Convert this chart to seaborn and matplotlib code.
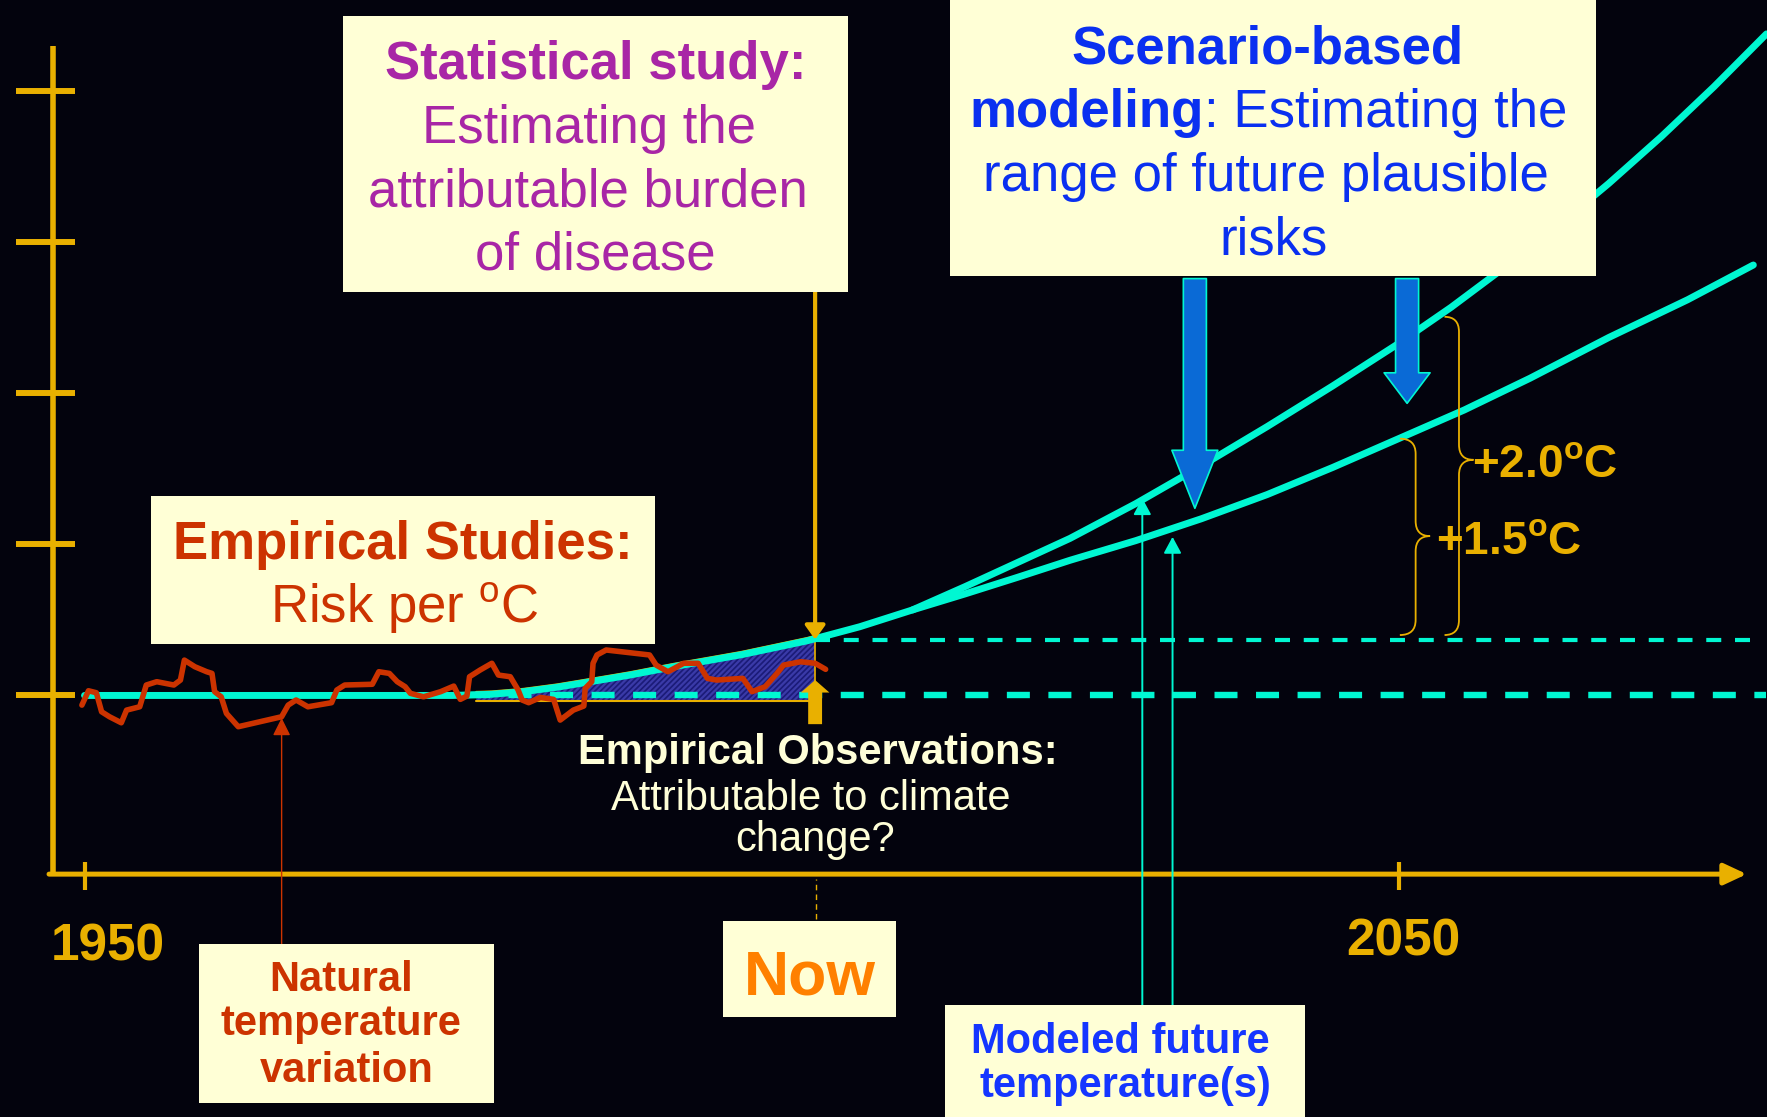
import numpy as np
import matplotlib
matplotlib.use('Agg')
import matplotlib.pyplot as plt
import matplotlib.patches as mpatches
from matplotlib.path import Path
import seaborn as sns

# natural temperature variation (year, risk above baseline, 1 unit = 1 y tick)
natural_years = [1949.8, 1950.3, 1950.9, 1951.3, 1951.9, 1952.8, 1953.2, 1954.2, 1954.7, 1955.5,
                 1956.8, 1957.3, 1957.6, 1958.4, 1959.3, 1959.7, 1959.9, 1960.4, 1960.8, 1961.7,
                 1965.0, 1965.5, 1966.1, 1967.0, 1968.8, 1969.2, 1969.8, 1971.9, 1972.4, 1973.2,
                 1973.8, 1974.4, 1974.8, 1975.8, 1977.1, 1978.1, 1978.6, 1979.1, 1979.3, 1980.1,
                 1981.0, 1981.5, 1982.4, 1983.0, 1983.3, 1983.8, 1984.7, 1985.7, 1986.2, 1987.2,
                 1988.0, 1988.1, 1988.6, 1988.7, 1989.0, 1989.7, 1993.0, 1993.5, 1994.4, 1995.6,
                 1996.7, 1997.4, 1998.1, 2000.1, 2000.8, 2001.8, 2002.7, 2003.2, 2004.5, 2005.6,
                 2006.4]
natural_risk = [-0.064, 0.031, 0.018, -0.108, -0.141, -0.181, -0.097, -0.075, 0.069, 0.091,
                0.069, 0.102, 0.234, 0.19, 0.157, 0.146, 0.025, -0.009, -0.119, -0.207,
                -0.141, -0.064, -0.03, -0.075, -0.048, 0.036, 0.069, 0.074, 0.157, 0.146,
                0.091, 0.058, 0.014, -0.009, 0.025, 0.062, -0.026, -0.004, 0.124, 0.168,
                0.213, 0.135, 0.124, 0.036, -0.03, -0.048, -0.013, -0.026, -0.163, -0.097,
                -0.07, 0.047, 0.091, 0.213, 0.268, 0.301, 0.268, 0.201, 0.157, 0.213,
                0.213, 0.113, 0.102, 0.113, 0.025, 0.058, 0.146, 0.201, 0.223, 0.213,
                0.173]

# risk curve shared by both scenarios
common_years = [1950, 1978, 1981, 1983.4, 1986, 1988.5, 1991.5, 1994.8, 2000, 2005, 2009, 2013]
common_risk = [0, 0, 0.008, 0.025, 0.055, 0.091, 0.135, 0.19, 0.27, 0.362, 0.455, 0.566]

# scenario curves
years_20 = [2013, 2017, 2021, 2025, 2030, 2035, 2040, 2045, 2050, 2054, 2058, 2062, 2066, 2070, 2074, 2078]
risk_20 = [0.566, 0.72, 0.88, 1.04, 1.27, 1.52, 1.78, 2.05, 2.33, 2.57, 2.83, 3.10, 3.39, 3.70, 4.03, 4.38]
years_15 = [2013, 2017, 2021, 2025, 2030, 2035, 2040, 2045, 2050, 2055, 2060, 2066, 2072, 2077]
risk_15 = [0.566, 0.672, 0.782, 0.895, 1.025, 1.17, 1.33, 1.51, 1.70, 1.89, 2.10, 2.37, 2.62, 2.85]

now_year = 2005.6
now_risk = 0.37
year_ticks = [1950, 2050]
year_labels = ['1950', '2050']
risk_ticks = [0, 1, 2, 3, 4]

bg = '#03030d'
gold = '#e9b000'
cyan = '#00f7d2'
red = '#cc3300'
box_fc = '#ffffd6'
purple = '#a826a6'
blue_txt = '#0a30f0'
blue_arrow = '#0a6ad6'
cream = '#ffffd8'
orange = '#ff8000'
navy = '#1b1b78'

sns.set_theme(style='dark', rc={'axes.facecolor': bg, 'figure.facecolor': bg})
plt.rcParams['font.family'] = ['Liberation Sans', 'DejaVu Sans']
plt.rcParams['mathtext.fontset'] = 'custom'
plt.rcParams['mathtext.rm'] = 'Liberation Sans'
plt.rcParams['mathtext.bf'] = 'Liberation Sans:bold'
plt.rcParams['hatch.linewidth'] = 1.6

W, H = 1568, 991  # layout reference for boxes and text

fig = plt.figure(figsize=(17.67, 11.17), dpi=100)
ax = fig.add_axes([0, 0, 1, 1])


def txt(xd, yd, s, size, color, weight='normal', ha='center'):
    ax.text(xd / W, 1 - yd / H, s, transform=ax.transAxes, fontsize=size, color=color,
            fontweight=weight, ha=ha, va='baseline', zorder=7)


def caixa(x0, y0, x1, y1):
    ax.add_patch(mpatches.Rectangle((x0 / W, 1 - y1 / H), (x1 - x0) / W, (y1 - y0) / H,
                                    transform=ax.transAxes, fc=box_fc, ec='none', zorder=5))


def chave(x0, x1, x2, ytop, ybot, ymid, r=0.1):
    verts = [(x0, ytop), (x1, ytop), (x1, ytop - r), (x1, ymid + r), (x1, ymid), (x2, ymid),
             (x1, ymid), (x1, ymid - r), (x1, ybot + r), (x1, ybot), (x0, ybot)]
    codes = [Path.MOVETO, Path.CURVE3, Path.CURVE3, Path.LINETO, Path.CURVE3, Path.CURVE3,
             Path.CURVE3, Path.CURVE3, Path.LINETO, Path.CURVE3, Path.CURVE3]
    ax.add_patch(mpatches.PathPatch(Path(verts, codes), fill=False, ec=gold, lw=1.3, zorder=3))


def seta(x0, y0, x1, y1, style, scale=10, **kw):
    ax.annotate('', xy=(x1, y1), xytext=(x0, y0), zorder=4,
                arrowprops=dict(arrowstyle=style, mutation_scale=scale, shrinkA=0, shrinkB=0, **kw))


# shaded attributable area
cy = np.array(common_years)
cr = np.array(common_risk)
sx = np.concatenate([[1979.8], cy[(cy > 1979.8) & (cy < now_year)], [now_year]])
sy = np.interp(sx, cy, cr)
ax.fill_between(sx, -0.035, sy, facecolor=navy, edgecolor='#3a3aa8', hatch='//////', lw=0, zorder=1)
ax.plot(sx, sy + 0.02, color=gold, lw=1.2, zorder=1.5)
ax.plot([1979.8, now_year], [-0.035, -0.035], color=gold, lw=1.5, zorder=1.5)
ax.plot([now_year, now_year], [-0.035, now_risk], color=gold, lw=1.2, zorder=1.5)

# dashed reference levels
ax.plot([now_year, 2077.2], [now_risk, now_risk], color=cyan, lw=3, dashes=(3.6, 3.3), zorder=2)
ax.plot([1979.1, 2078], [0, 0], color=cyan, lw=4.6, dashes=(3.6, 2.9), zorder=2.5)

# risk curves
sns.lineplot(x=common_years + years_20[1:], y=common_risk + risk_20[1:], ax=ax,
             color=cyan, lw=5, zorder=3)
sns.lineplot(x=years_15, y=risk_15, ax=ax, color=cyan, lw=5, zorder=3)
sns.lineplot(x=natural_years, y=natural_risk, ax=ax, color=red, lw=4, zorder=4, sort=False)

# axes drawn by hand
ax.plot([1947.6, 1947.6], [-1.183, 4.302], color=gold, lw=4, solid_capstyle='butt', zorder=3)
ax.hlines(risk_ticks, 1944.77, 1949.31, color=gold, lw=4.3, zorder=3)
seta(1947.3, -1.183, 2076.5, -1.183, '-|>,head_length=1.37,head_width=0.64', lw=3.6, color=gold)
ax.vlines(year_ticks, -1.291, -1.104, color=gold, lw=3, zorder=3)
ax.plot([now_year + 0.1] * 2, [-1.478, -1.216], color=gold, lw=1, dashes=(4, 3))

# arrows
seta(now_year, 2.673, now_year, now_risk, '-|>,head_length=0.42,head_width=0.3', scale=20, lw=3, color=gold)
seta(now_year, -0.19, now_year, 0.102, 'simple,head_length=0.9,head_width=2.06,tail_width=1.0',
     fc=gold, ec='none')
seta(2034.5, 2.76, 2034.5, 1.239, 'simple,head_length=4.18,head_width=3.31,tail_width=1.66',
     fc=blue_arrow, ec=cyan, lw=1.2)
seta(2050.65, 2.76, 2050.65, 1.934, 'simple,head_length=2.2,head_width=3.31,tail_width=1.66',
     fc=blue_arrow, ec=cyan, lw=1.2)
seta(1965.0, -1.649, 1965.0, -0.149, '-|>,head_length=1.08,head_width=0.54', lw=1, color=red)
seta(2030.5, -2.09, 2030.5, 1.306, '-|>,head_length=1.0,head_width=0.54', lw=1.4, color=cyan)
seta(2032.8, -2.07, 2032.8, 1.05, '-|>,head_length=1.0,head_width=0.54', lw=1.4, color=cyan)

# braces
chave(2050.1, 2051.3, 2052.4, 1.70, 0.40, 1.055)
chave(2053.5, 2054.6, 2055.7, 2.507, 0.40, 1.56)
txt(1306, 423, r'+2.0$^\mathbf{o}$C', 33, gold, 'bold', ha='left')
txt(1274, 491.6, r'+1.5$^\mathbf{o}$C', 33, gold, 'bold', ha='left')

# year labels
txt(96, 851.8, year_labels[0], 37, gold, 'bold')
txt(1245, 847.4, year_labels[1], 37, gold, 'bold')

# boxes
caixa(304.6, 14.2, 752.3, 258.8)
txt(528.7, 70.4, 'Statistical study:', 38, purple, 'bold')
txt(523, 126.6, 'Estimating the', 38, purple)
txt(522, 183.4, 'attributable burden', 38, purple)
txt(528.7, 239, 'of disease', 38, purple)

caixa(843.4, -5, 1416.7, 244.9)
txt(1124.5, 56.2, 'Scenario-based', 38, blue_txt, 'bold')
txt(1068.6, 112.4, 'modeling', 38, blue_txt, 'bold', ha='right')
txt(1068.6, 112.4, ': Estimating the', 38, blue_txt, ha='left')
txt(1123.4, 169.2, 'range of future plausible', 38, blue_txt)
txt(1130.5, 225.4, 'risks', 38, blue_txt)

caixa(134, 440, 581, 571.4)
txt(357.2, 496.3, 'Empirical Studies:', 38, red, 'bold')
txt(358.4, 552.5, r'Risk per $^\mathrm{o}$C', 38, red)

caixa(177, 837.6, 438, 978.4)
txt(303, 879, 'Natural', 30, red, 'bold')
txt(302.5, 918.4, 'temperature', 30, red, 'bold')
txt(308, 959.8, 'variation', 30, red, 'bold')

caixa(642, 817.2, 795, 902)
txt(719, 882, 'Now', 45, orange, 'bold')

caixa(839, 891.8, 1158, 1000)
txt(994, 934, 'Modeled future', 30, '#1536ff', 'bold')
txt(999, 973, 'temperature(s)', 30, '#1536ff', 'bold')

txt(725.3, 678.2, 'Empirical Observations:', 30, cream, 'bold')
txt(719.7, 718.2, 'Attributable to climate', 30, cream)
txt(723.7, 754.8, 'change?', 30, cream)

ax.set_xlim(1943.568, 2078.04)
ax.set_ylim(-2.791, 4.6045)
ax.set_axis_off()

fig.savefig('out.png', dpi=100, facecolor=bg)
